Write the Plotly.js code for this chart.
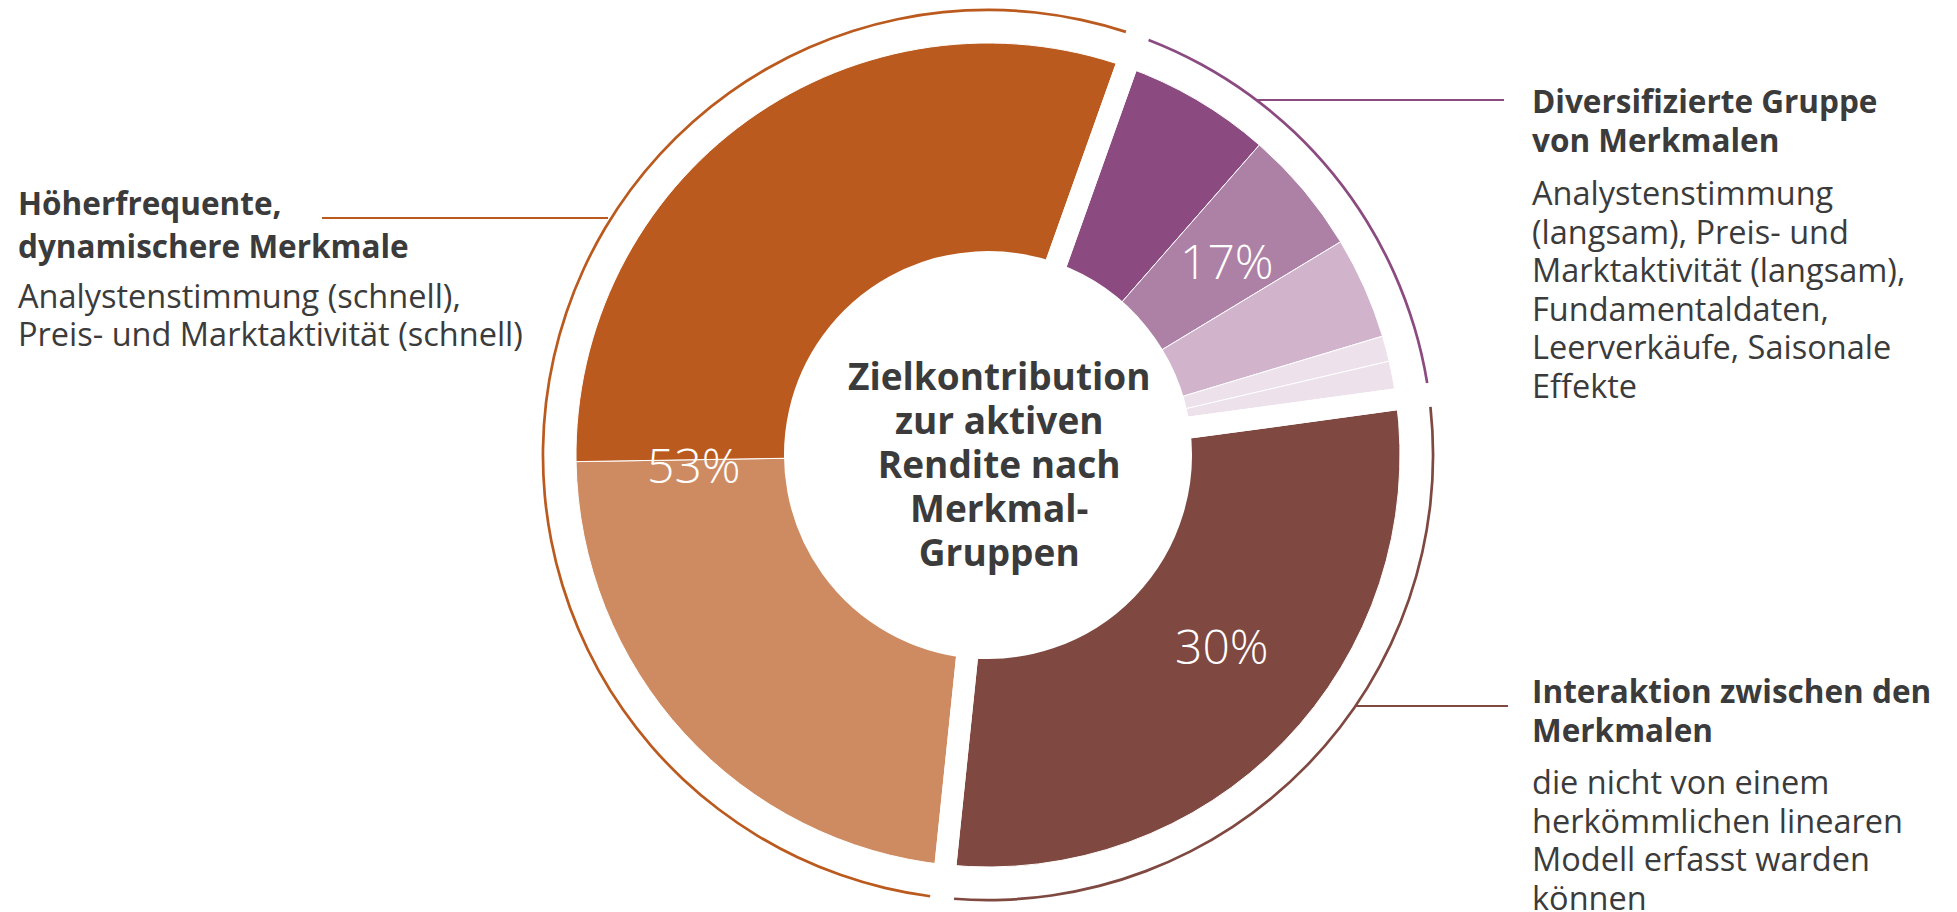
<!DOCTYPE html>
<html>
<head>
<meta charset="utf-8">
<script src="https://cdn.plot.ly/plotly-3.0.1.min.js"></script>
<style>
  html, body { margin: 0; padding: 0; background: #ffffff; overflow: hidden; }
  #chart { width: 1957px; height: 912px; }
</style>
</head>
<body>
<div id="chart"></div>
<script>
// ---------------- DATA ----------------
const groupNames = [
  'Diversifizierte Gruppe von Merkmalen',
  'Interaktion zwischen den Merkmalen',
  'Höherfrequente, dynamischere Merkmale'
];
const groupLabels = ['17%', '30%', '53%'];

// sub-slices, clockwise, starting with the diversified group
const sliceLabels = [
  'Analystenstimmung (langsam)',
  'Preis- und Marktaktivität (langsam)',
  'Fundamentaldaten',
  'Leerverkäufe',
  'Saisonale Effekte',
  'Interaktion zwischen den Merkmalen',
  'Preis- und Marktaktivität (schnell)',
  'Analystenstimmung (schnell)'
];
const sliceGroup = [0, 0, 0, 0, 0, 1, 2, 2];
const sliceValues = [6.0, 4.9, 4.0, 1.0, 1.5, 28.8, 23.1, 30.7];

const groupTitles = [
  ['Diversifizierte Gruppe', 'von Merkmalen'],
  ['Interaktion zwischen den', 'Merkmalen'],
  ['Höherfrequente,', 'dynamischere Merkmale']
];
const groupBodies = [
  ['Analystenstimmung', '(langsam), Preis- und', 'Marktaktivität (langsam),', 'Fundamentaldaten,', 'Leerverkäufe, Saisonale', 'Effekte'],
  ['die nicht von einem', 'herkömmlichen linearen', 'Modell erfasst warden', 'können'],
  ['Analystenstimmung (schnell),', 'Preis- und Marktaktivität (schnell)']
];
const centerTitle = ['Zielkontribution', 'zur aktiven', 'Rendite nach', 'Merkmal-', 'Gruppen'];

// group totals derived from the slices
const groupValues = [0, 0, 0];
sliceValues.forEach((v, i) => { groupValues[sliceGroup[i]] += v; });

// ---------------- STYLE ----------------
const W = 1957, H = 912;
const CX = 988, CY = 455;
const sliceColors = ['#8B4B80', '#AD80A5', '#D1B4CC', '#EDE2EB', '#EDE2EB', '#7F4840', '#CE8B61', '#BB5A1E'];
const groupColors = ['#8B4B80', '#7F4840', '#BB5A1E'];
const ROT = 19.6;
const R_DONUT = 412, R_GAP = 428, R_INNER = 193;
const R_RING_OUT = 446.4, R_RING_IN = 443.7;
const GAP_PX = 22;
const RING_GAP_HALF = 0.43;
const TXT = '#3b3b3b';
const FONT = '"Open Sans", "Noto Sans", sans-serif';
const TITLE_SIZE = 31.5, BODY_SIZE = 32.5, CTR_SIZE = 37, PCT_SIZE = 48;
const LINE_SPACING = 1.3;   // plotly's fixed line spacing (in em of the base size)
const ASCENT = 1.069;       // Open Sans ascent (em)

function dom(R) {
  return {
    x: [(CX - R) / W, (CX + R) / W],
    y: [1 - (CY + R) / H, 1 - (CY - R) / H]
  };
}

// donut slices
const donut = {
  type: 'pie', sort: false, direction: 'clockwise', rotation: ROT,
  labels: sliceLabels, values: sliceValues,
  marker: { colors: sliceColors, line: { color: '#ffffff', width: 1 } },
  textinfo: 'none', hoverinfo: 'label+value',
  hole: R_INNER / R_DONUT, domain: dom(R_DONUT),
  showlegend: false
};

// outer thin arcs per group (with small transparent breaks at the group borders)
const ringValues = [], ringColors = [], ringLabels = [];
groupValues.forEach((v, i) => {
  ringValues.push(RING_GAP_HALF, v - 2 * RING_GAP_HALF, RING_GAP_HALF);
  ringColors.push('rgba(0,0,0,0)', groupColors[i], 'rgba(0,0,0,0)');
  ringLabels.push('a' + i, groupNames[i], 'b' + i);
});
const ring = {
  type: 'pie', sort: false, direction: 'clockwise', rotation: ROT,
  labels: ringLabels, values: ringValues,
  marker: { colors: ringColors, line: { width: 0 } },
  textinfo: 'none', hoverinfo: 'skip',
  hole: R_RING_IN / R_RING_OUT, domain: dom(R_RING_OUT),
  showlegend: false
};

// white separators between the three groups
const gaps = {
  type: 'pie', sort: false, direction: 'clockwise', rotation: ROT,
  labels: groupNames, values: groupValues,
  marker: { colors: ['rgba(0,0,0,0)', 'rgba(0,0,0,0)', 'rgba(0,0,0,0)'],
            line: { color: '#ffffff', width: GAP_PX } },
  textinfo: 'none', hoverinfo: 'skip',
  hole: R_INNER / R_GAP, domain: dom(R_GAP),
  showlegend: false
};

// ---------------- ANNOTATIONS ----------------
function px2x(x) { return x / W; }
function px2y(y) { return 1 - y / H; }

const annotations = [];
// text block: glyph size `size`, line pitch `pitch`, first baseline at `base1`
function addBlock(lines, x, base1, pitch, size, bold, anchor) {
  const baseSize = pitch / LINE_SPACING;
  const top = base1 - ASCENT * size - 2;
  annotations.push({
    xref: 'paper', yref: 'paper', x: px2x(x), y: px2y(top),
    xanchor: anchor, yanchor: 'top', align: anchor, showarrow: false,
    text: lines.map(l => '<span style="font-size:' + size + 'px">' + l + '</span>').join('<br>'),
    font: { family: FONT, size: baseSize, color: TXT, weight: bold ? 700 : 400 }
  });
}
// diversified (right top)
addBlock(groupTitles[0], 1530, 113, 39, TITLE_SIZE, true, 'left');
addBlock(groupBodies[0], 1530, 205, 38.5, BODY_SIZE, false, 'left');
// interaction (right bottom)
addBlock(groupTitles[1], 1530, 703, 39, TITLE_SIZE, true, 'left');
addBlock(groupBodies[1], 1530, 794, 38.5, BODY_SIZE, false, 'left');
// high frequency (left)
addBlock(groupTitles[2], 16, 215, 43, TITLE_SIZE, true, 'left');
addBlock(groupBodies[2], 16, 308, 38, BODY_SIZE, false, 'left');
// centre title
addBlock(centerTitle, 999, 390, 44, CTR_SIZE, true, 'center');

// percentage labels
const pctPos = [[1227, 260], [1222, 645], [694, 464]];
groupLabels.forEach((t, i) => {
  annotations.push({
    xref: 'paper', yref: 'paper', x: px2x(pctPos[i][0]), y: px2y(pctPos[i][1]),
    xanchor: 'center', yanchor: 'middle', showarrow: false, text: t,
    font: { family: FONT, size: PCT_SIZE, color: '#ffffff', weight: 300 }
  });
});

// leader lines
const shapes = [
  { type: 'line', xref: 'paper', yref: 'paper', x0: px2x(322), x1: px2x(608), y0: px2y(218), y1: px2y(218),
    line: { color: groupColors[2], width: 2 } },
  { type: 'line', xref: 'paper', yref: 'paper', x0: px2x(1256), x1: px2x(1504), y0: px2y(100), y1: px2y(100),
    line: { color: groupColors[0], width: 2 } },
  { type: 'line', xref: 'paper', yref: 'paper', x0: px2x(1355), x1: px2x(1508), y0: px2y(706), y1: px2y(706),
    line: { color: groupColors[1], width: 2 } }
];

const layout = {
  width: W, height: H,
  margin: { l: 0, r: 0, t: 0, b: 0 },
  paper_bgcolor: '#ffffff', plot_bgcolor: '#ffffff',
  showlegend: false,
  font: { family: FONT, color: TXT },
  annotations: annotations, shapes: shapes
};

Plotly.newPlot('chart', [ring, donut, gaps], layout, { displayModeBar: false, staticPlot: true });
</script>
</body>
</html>
